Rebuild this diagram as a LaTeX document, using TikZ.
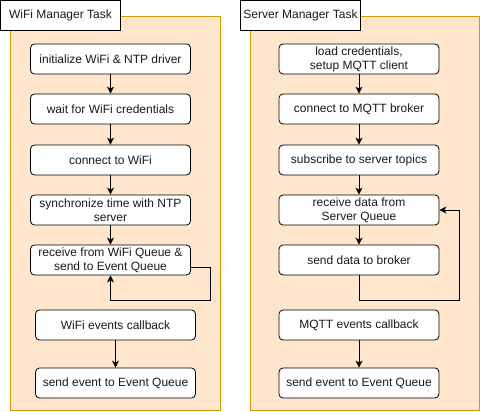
\documentclass[tikz,border=0pt]{standalone}
\usepackage{fontspec}
\setmainfont{Liberation Sans}
\usetikzlibrary{arrows.meta}
\definecolor{cfill}{HTML}{FFE6CC}
\definecolor{cstroke}{HTML}{D79B00}
\definecolor{ctext}{HTML}{1A1A1A}
\begin{document}
\begin{tikzpicture}[x=1pt,y=-1pt,
  txt/.style={font=\fontsize{12}{14}\selectfont, text=ctext},
  stepbox/.style={txt, draw, fill=white, rounded corners=4pt, line width=0.8pt,
    minimum width=160pt, minimum height=30pt, inner sep=0pt, align=center},
  container/.style={draw=cstroke, fill=cfill, line width=0.8pt, inner sep=0pt},
  titlebox/.style={txt, draw, fill=white, line width=0.8pt, minimum width=120pt,
    minimum height=30pt, inner sep=0pt},
  arr/.style={-{Stealth[length=7pt,width=7pt,inset=2pt]}, line width=0.8pt}]
\useasboundingbox (0,0) rectangle (480,412);
% containers
\node[container, minimum width=210pt, minimum height=394pt] (lcont) at (115.5,213) {};
\node[container, minimum width=229pt, minimum height=394pt] (rcont) at (365,213) {};
\node[titlebox] (ltitle) at (60.5,15.5) {WiFi Manager Task};
\node[titlebox] (rtitle) at (300.5,15.5) {Server Manager Task};
% left column
\node[stepbox] (l1) at (110.5,59) {initialize WiFi \& NTP driver};
\node[stepbox] (l2) at (110.5,109) {wait for WiFi credentials};
\node[stepbox] (l3) at (110.5,160) {connect to WiFi};
\node[stepbox] (l4) at (110.5,210) {synchronize time with NTP\\server};
\node[stepbox] (l5) at (110.5,260) {receive from WiFi Queue \&\\send to Event Queue};
\node[stepbox] (l6) at (115.5,325) {WiFi events callback};
\node[stepbox] (l7) at (115.5,383) {send event to Event Queue};
% right column
\node[stepbox] (r1) at (359,59) {load credentials,\\setup MQTT client};
\node[stepbox] (r2) at (359,109) {connect to MQTT broker};
\node[stepbox] (r3) at (359,160) {subscribe to server topics};
\node[stepbox] (r4) at (359,210) {receive data from\\Server Queue};
\node[stepbox] (r5) at (359,260) {send data to broker};
\node[stepbox] (r6) at (359,325) {MQTT events callback};
\node[stepbox] (r7) at (359,383) {send event to Event Queue};
% connectors
\draw[arr] (l1) -- (l2);
\draw[arr] (l2) -- (l3);
\draw[arr] (l3) -- (l4);
\draw[arr] (l4) -- (l5);
\draw[arr] (l6) -- (l7);
\coordinate (lc) at (210.5,300);
\draw[arr] ([yshift=-7pt]l5.east) -| (lc) -| (l5.south);
\draw[arr] (r1) -- (r2);
\draw[arr] (r2) -- (r3);
\draw[arr] (r3) -- (r4);
\draw[arr] (r4) -- (r5);
\draw[arr] (r6) -- (r7);
\coordinate (rc) at (459.5,300);
\draw[arr] (r5.south) |- (rc) |- (r4.east);
\end{tikzpicture}
\end{document}
